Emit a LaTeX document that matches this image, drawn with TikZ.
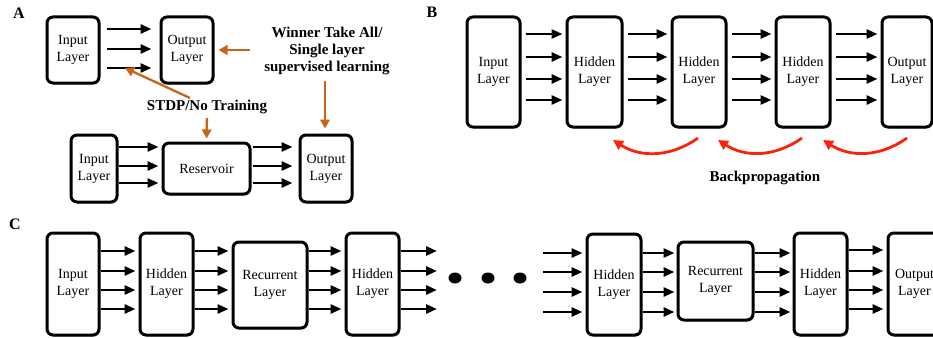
\documentclass[tikz,border=0pt]{standalone}
\usepackage{fontspec}
\setmainfont{Liberation Serif}
\usetikzlibrary{arrows.meta,shadows,calc,shapes.geometric}
\definecolor{orangec}{RGB}{200,100,25}
\definecolor{redc}{RGB}{250,35,10}
\tikzset{
 box/.style={draw, line width=3pt, rounded corners=6pt, fill=white, align=center,
   font=\fontsize{14}{17}\selectfont, inner sep=0pt,
   drop shadow={shadow xshift=1pt, shadow yshift=-1.5pt, opacity=0.25, fill=black}},
 arr/.style={line width=2.8pt, -{Triangle[length=11pt,width=9pt]}},
 oarr/.style={draw=orangec, line width=2.3pt, -{Triangle[length=9pt,width=9.5pt]}},
 rarr/.style={draw=redc, line width=2.8pt, -{Triangle[length=10pt,width=10pt]}},
 lbl/.style={font=\bfseries\fontsize{15}{17}\selectfont, align=center, inner sep=0pt},
 panel/.style={font=\bfseries\fontsize{16}{18}\selectfont, inner sep=0pt},
 dot/.style={fill=black, ellipse, inner sep=0pt, minimum width=13pt, minimum height=11pt}
}
\begin{document}
\begin{tikzpicture}[x=1pt,y=-1pt]
\useasboundingbox (0,0) rectangle (933,337);
\clip (0,0) rectangle (933,337);
% ---------- Panel A ----------
\node[panel] (labA) at (19,13) {A};
\node[box, minimum width=52, minimum height=66] (inA) at (73,50) {Input\\Layer};
\node[box, minimum width=52, minimum height=66] (outA) at (187,50) {Output\\Layer};
\foreach \y in {29,49,68}
  \draw[arr, shorten <=6pt, shorten >=8pt] (inA.east |- 0,\y) -- (outA.west |- 0,\y);
\node[box, minimum width=46, minimum height=67] (inB) at (94,168.5) {Input\\Layer};
\node[box, minimum width=87, minimum height=51] (res) at (206.5,168.5) {Reservoir};
\node[box, minimum width=52, minimum height=67] (outB) at (326,168.5) {Output\\Layer};
\foreach \y in {147,166,183}{
  \draw[arr, shorten <=0pt, shorten >=3pt] (inB.east |- 0,\y) -- (res.west |- 0,\y);
  \draw[arr, shorten <=1pt, shorten >=6pt] (res.east |- 0,\y) -- (outB.west |- 0,\y);
}
\node[lbl] (wta) at (327,51) {Winner Take All/\\Single layer\\supervised learning};
\node[lbl] (stdp) at (207,107) {STDP/No Training};
\coordinate (wtaL) at (250,50);
\coordinate (stdpA) at (190,98);
\coordinate (tgtA) at (125,68);
\draw[oarr, shorten >=4pt] (wtaL) -- (outA.east |- wtaL);
\draw[oarr, shorten <=6pt, shorten >=5pt] (wta.south -| 325,0) -- (outB.north -| 325,0);
\draw[oarr] (stdpA) -- (tgtA);
\draw[oarr, shorten <=4pt, shorten >=3pt] (stdp.south) -- (res.north);
% ---------- Panel B ----------
\node[panel] (labB) at (432,12) {B};
\node[box, minimum width=53, minimum height=110] (bIn) at (493.5,72) {Input\\Layer};
\node[box, minimum width=55, minimum height=110] (bH1) at (594.5,72) {Hidden\\Layer};
\node[box, minimum width=54, minimum height=110] (bH2) at (699,72) {Hidden\\Layer};
\node[box, minimum width=54, minimum height=110] (bH3) at (803,72) {Hidden\\Layer};
\node[box, minimum width=50, minimum height=110] (bOut) at (907,72) {Output\\Layer};
\foreach \a/\b in {bIn/bH1,bH1/bH2,bH2/bH3,bH3/bOut}
  \foreach \y in {34,57,79,100}
    \draw[arr, shorten <=4pt, shorten >=3pt] (\a.east |- 0,\y) -- (\b.west |- 0,\y);
\coordinate (r1s) at (698,138); \coordinate (r1e) at (613,140);
\coordinate (r2s) at (802,138); \coordinate (r2e) at (718,140);
\coordinate (r3s) at (907,138); \coordinate (r3e) at (823,140);
\draw[rarr] (r1s) to[bend left=34] (r1e);
\draw[rarr] (r2s) to[bend left=34] (r2e);
\draw[rarr] (r3s) to[bend left=34] (r3e);
\node[lbl] (bp) at (765,178) {Backpropagation};
% ---------- Panel C ----------
\node[panel] (labC) at (15,224) {C};
\node[box, minimum width=52, minimum height=102] (cIn) at (73,284) {Input\\Layer};
\node[box, minimum width=53, minimum height=102] (cH1) at (166.5,284) {Hidden\\Layer};
\node[box, minimum width=74, minimum height=86] (cR1) at (270,285) {Recurrent\\Layer};
\node[box, minimum width=53, minimum height=102] (cH2) at (372.5,284) {Hidden\\Layer};
\node[box, minimum width=54, minimum height=101] (cH3) at (614,284.5) {Hidden\\Layer};
\node[box, minimum width=75, minimum height=78] (cR2) at (715.5,281) {Recurrent\\Layer};
\node[box, minimum width=53, minimum height=102] (cH4) at (820.5,284) {Hidden\\Layer};
\node[box, minimum width=53, minimum height=102] (cOut) at (914.5,284) {Output\\Layer};
\foreach \a/\b in {cIn/cH1,cH1/cR1,cR1/cH2}
  \foreach \y in {251,271,290,309}
    \draw[arr, shorten >=3pt] (\a.east |- 0,\y) -- (\b.west |- 0,\y);
\foreach \y in {251,271,290,309}{
  \coordinate (ce\y) at (437,\y);
  \draw[arr] (cH2.east |- 0,\y) -- (ce\y);
}
\node[dot] (d1) at (455,278) {};
\node[dot] (d2) at (488,278) {};
\node[dot] (d3) at (520,278) {};
\foreach \y in {253,272,292,312}{
  \coordinate (cs\y) at (543,\y);
  \draw[arr, shorten >=3pt] (cs\y) -- (cH3.west |- 0,\y);
}
\foreach \a/\b in {cH3/cR2,cR2/cH4}
  \foreach \y in {253,272,292,312}
    \draw[arr, shorten >=2pt] (\a.east |- 0,\y) -- (\b.west |- 0,\y);
\foreach \y in {250,271,290,309}
  \draw[arr, shorten >=3pt] (cH4.east |- 0,\y) -- (cOut.west |- 0,\y);
\end{tikzpicture}
\end{document}
